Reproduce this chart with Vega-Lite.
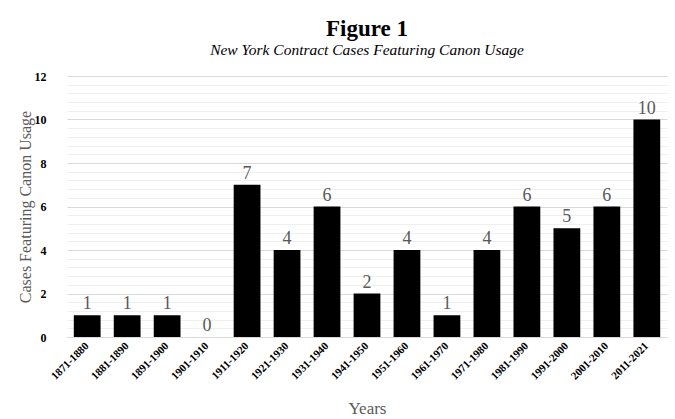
{
  "$schema": "https://vega.github.io/schema/vega-lite/v6.json",
  "width": 600,
  "height": 261,
  "autosize": {"type": "none"},
  "padding": {"left": 67, "top": 76, "right": 8, "bottom": 82},
  "background": "white",
  "title": {
    "text": "Figure 1",
    "subtitle": "New York Contract Cases Featuring Canon Usage",
    "font": "Liberation Serif, serif",
    "fontSize": 23,
    "fontWeight": "bold",
    "color": "black",
    "subtitleFont": "Liberation Serif, serif",
    "subtitleFontSize": 15.5,
    "subtitleFontStyle": "italic",
    "subtitleColor": "black",
    "subtitlePadding": 2,
    "anchor": "middle",
    "offset": 12
  },
  "data": {
    "values": [
      {"period": "1871-1880", "cases": 1},
      {"period": "1881-1890", "cases": 1},
      {"period": "1891-1900", "cases": 1},
      {"period": "1901-1910", "cases": 0},
      {"period": "1911-1920", "cases": 7},
      {"period": "1921-1930", "cases": 4},
      {"period": "1931-1940", "cases": 6},
      {"period": "1941-1950", "cases": 2},
      {"period": "1951-1960", "cases": 4},
      {"period": "1961-1970", "cases": 1},
      {"period": "1971-1980", "cases": 4},
      {"period": "1981-1990", "cases": 6},
      {"period": "1991-2000", "cases": 5},
      {"period": "2001-2010", "cases": 6},
      {"period": "2011-2021", "cases": 10}
    ]
  },
  "encoding": {
    "x": {
      "field": "period",
      "type": "nominal",
      "sort": null,
      "scale": {"paddingInner": 0.33, "paddingOuter": 0.17},
      "axis": {
        "title": "Years",
        "titleFont": "Liberation Serif, serif",
        "titleFontSize": 17,
        "titleFontWeight": "normal",
        "titleColor": "#595959",
        "titlePadding": 19,
        "labelAngle": -45,
        "labelAlign": "right",
        "labelBaseline": "middle",
        "labelPadding": 7,
        "labelFont": "Liberation Serif, serif",
        "labelFontWeight": "bold",
        "labelFontSize": 11,
        "labelColor": "black",
        "ticks": false,
        "domainColor": "#d9d9d9",
        "domainWidth": 1
      }
    }
  },
  "layer": [
    {
      "mark": {"type": "bar", "color": "black"},
      "encoding": {
        "y": {
          "field": "cases",
          "type": "quantitative",
          "scale": {"domain": [0, 12], "nice": false},
          "axis": {
            "values": [0, 2, 4, 6, 8, 10, 12],
            "title": "Cases Featuring Canon Usage",
            "titleFont": "Liberation Serif, serif",
            "titleFontSize": 16,
            "titleFontWeight": "normal",
            "titleColor": "#595959",
            "titlePadding": 1,
            "labelFont": "Liberation Serif, serif",
            "labelFontWeight": "bold",
            "labelFontSize": 12,
            "labelColor": "black",
            "labelPadding": 21,
            "ticks": false,
            "domain": false,
            "grid": true,
            "gridColor": "#d9d9d9",
            "gridWidth": 1
          }
        }
      }
    },
    {
      "mark": {
        "type": "text",
        "baseline": "bottom",
        "dy": -2,
        "font": "Liberation Serif, serif",
        "fontSize": 18,
        "color": "#595959"
      },
      "encoding": {
        "y": {
          "field": "cases",
          "type": "quantitative",
          "axis": {
            "orient": "right",
            "values": [0.4, 0.8, 1.2, 1.6, 2.4, 2.8, 3.2, 3.6, 4.4, 4.8, 5.2, 5.6, 6.4, 6.8, 7.2, 7.6, 8.4, 8.8, 9.2, 9.6, 10.4, 10.8, 11.2, 11.6],
            "grid": true,
            "gridColor": "#efefef",
            "gridWidth": 1,
            "labels": false,
            "ticks": false,
            "domain": false,
            "title": null
          }
        },
        "text": {"field": "cases", "type": "quantitative"}
      }
    }
  ],
  "resolve": {"axis": {"y": "independent"}},
  "config": {"view": {"stroke": null}}
}
